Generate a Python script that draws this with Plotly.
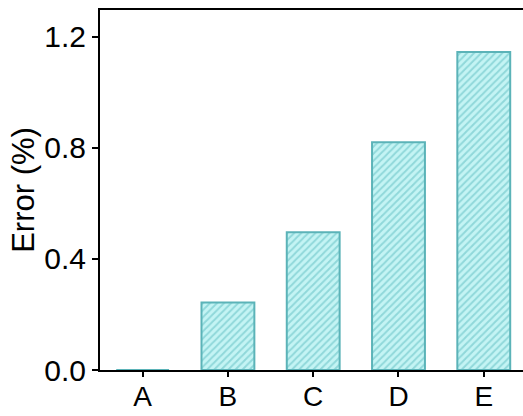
import plotly.graph_objects as go

categories = ["A", "B", "C", "D", "E"]
errors = [0.0, 0.243, 0.496, 0.820, 1.145]
y_ticks = [0.0, 0.4, 0.8, 1.2]
y_tick_labels = ["0.0", "0.4", "0.8", "1.2"]

font_family = "Liberation Sans, Arial, sans-serif"

fig = go.Figure(
    go.Bar(
        x=categories,
        y=errors,
        width=0.62,
        marker=dict(
            color="#b4f0f0",
            line=dict(color="#5bb3b8", width=2),
            pattern=dict(shape="/", fgcolor="#5cbcc0", bgcolor="#c4f4f4",
                         size=5, solidity=0.4),
        ),
    )
)

fig.update_layout(
    width=523,
    height=416,
    margin=dict(l=100, r=0, t=10, b=46),
    plot_bgcolor="white",
    paper_bgcolor="white",
    showlegend=False,
    font=dict(family=font_family, size=30, color="black"),
)

fig.update_xaxes(
    range=[-0.5, 4.46],
    showline=True, linecolor="black", linewidth=2, mirror=True,
    ticks="outside", ticklen=5, tickwidth=2, tickcolor="black",
    tickfont=dict(size=28), ticklabelstandoff=-5,
    showgrid=False, zeroline=False,
)
fig.update_yaxes(
    range=[0, 1.296],
    tickvals=y_ticks, ticktext=y_tick_labels,
    showline=True, linecolor="black", linewidth=2,
    ticks="outside", ticklen=6, tickwidth=2, tickcolor="black",
    tickfont=dict(size=30),
    title=dict(text="Error (%)", font=dict(size=31), standoff=0),
    showgrid=False, zeroline=False,
)

fig.write_html("out.html", config={"displayModeBar": False},
               post_script="document.body.style.margin='0';")
